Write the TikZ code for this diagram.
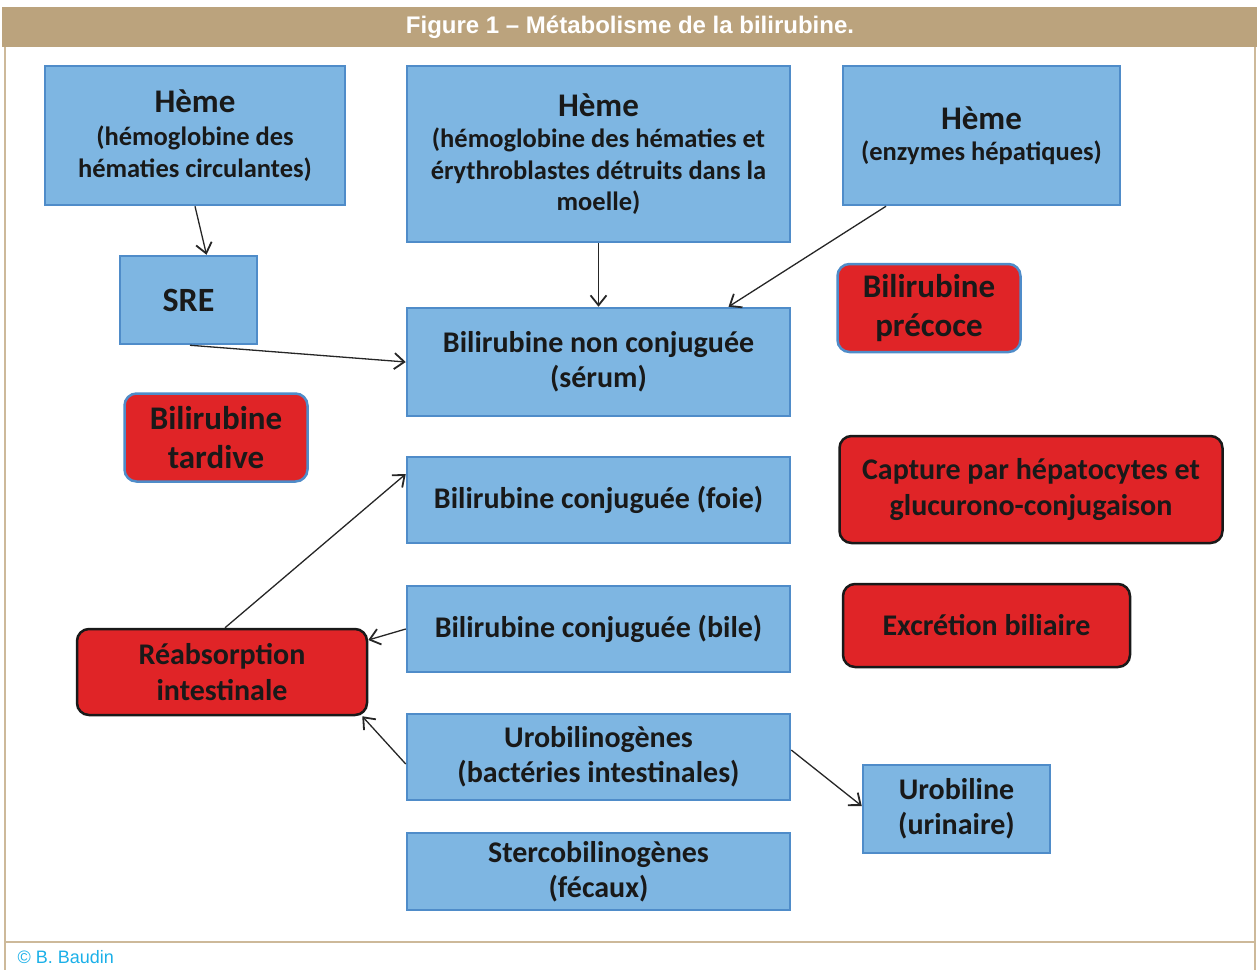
\documentclass[tikz,border=0pt]{standalone}
\usepackage{fontspec}
\setmainfont{Carlito}
\newfontfamily\headfont{Liberation Sans}
\usetikzlibrary{arrows.meta,calc}
\definecolor{tan}{HTML}{BBA37D}
\definecolor{tanline}{HTML}{CDB99A}
\definecolor{bluefill}{HTML}{7EB6E2}
\definecolor{bluedraw}{HTML}{4F8CC9}
\definecolor{redfill}{HTML}{E02427}
\definecolor{credit}{HTML}{1BB0E8}
\newcommand{\hemetitle}{{\fontsize{33}{36}\selectfont Hème}}
\begin{document}
\begin{tikzpicture}[x=1pt,y=-1pt,
  bluebox/.style={draw=bluedraw, line width=2.5pt, fill=bluefill, align=center, inner sep=0pt, text=black!90,
    font=\bfseries\fontsize{30}{35}\selectfont},
  hemebox/.style={bluebox, font=\bfseries\fontsize{26.5}{31.5}\selectfont},
  redbox/.style={draw=black!90, line width=2.5pt, fill=redfill, rounded corners=12pt, align=center, inner sep=0pt, text=black!90,
    font=\bfseries\fontsize{30}{35.5}\selectfont},
  redblue/.style={redbox, draw=bluedraw, font=\bfseries\fontsize{33}{38.5}\selectfont},
  arr/.style={-{Straight Barb[length=10pt,width=16pt,line width=1.8pt]}, line width=1.3pt, black!85}
]
\useasboundingbox (0,0) rectangle (1259,970);
% frame
\fill[tan] (2,7) rectangle (1257,47);
\draw[tanline, line width=2pt] (5,47) -- (5,970);
\draw[tanline, line width=2pt] (1255,47) -- (1255,970);
\draw[tanline, line width=2pt] (5,942) -- (1255,942);
\node[text=white, font=\headfont\bfseries\fontsize{24}{26}\selectfont] (title) at (630,27.5) {Figure 1 – Métabolisme de la bilirubine.};
\node[anchor=west, text=credit, font=\headfont\fontsize{18}{20}\selectfont] (credit) at (14,957) {© B. Baudin};

% blue boxes
\node[hemebox, minimum width=300pt, minimum height=139pt] (h1) at (195,135.5)
  {\hemetitle\\[2pt] (hémoglobine des\\ hématies circulantes)};
\node[bluebox, minimum width=137pt, minimum height=88pt] (sre) at (188.5,300) {{\fontsize{34}{36}\selectfont SRE}};
\node[hemebox, minimum width=383pt, minimum height=176pt] (h2) at (598.5,154)
  {\hemetitle\\ (hémoglobine des hématies et\\ érythroblastes détruits dans la\\ moelle)};
\node[hemebox, minimum width=277pt, minimum height=139pt] (h3) at (981.5,135.5)
  {\hemetitle\\ (enzymes hépatiques)};
\node[bluebox, minimum width=383pt, minimum height=108pt] (bnc) at (598.5,362)
  {Bilirubine non conjuguée\\ (sérum)};
\node[bluebox, minimum width=383pt, minimum height=86pt] (foie) at (598.5,500)
  {Bilirubine conjuguée (foie)};
\node[bluebox, minimum width=383pt, minimum height=86pt] (bile) at (598.5,629)
  {Bilirubine conjuguée (bile)};
\node[bluebox, minimum width=383pt, minimum height=86pt] (uro) at (598.5,757)
  {Urobilinogènes\\ (bactéries intestinales)};
\node[bluebox, minimum width=187pt, minimum height=88pt] (urine) at (956.5,809)
  {Urobiline\\ (urinaire)};
\node[bluebox, minimum width=383pt, minimum height=77pt] (sterco) at (598.5,871.5)
  {Stercobilinogènes\\ (fécaux)};

% red boxes
\node[redblue, minimum width=183pt, minimum height=88pt] (precoce) at (929,308) {Bilirubine\\ précoce};
\node[redblue, minimum width=183pt, minimum height=88pt] (tardive) at (216,437.5) {Bilirubine\\ tardive};
\node[redbox, minimum width=383pt, minimum height=107pt] (capture) at (1031,489.5)
  {Capture par hépatocytes et\\ glucurono-conjugaison};
\node[redbox, minimum width=287pt, minimum height=83pt] (excr) at (986.5,625.5) {Excrétion biliaire};
\node[redbox, minimum width=290pt, minimum height=86pt] (reab) at (222,672)
  {Réabsorption\\ intestinale};

% connectors
\draw[arr] (h1.south) -- ([xshift=18pt]sre.north);
\draw[arr] ([xshift=1.5pt]sre.south) -- (bnc.west);
\draw[arr] (h2.south) -- (bnc.north);
\draw[arr] ([xshift=-95.5pt]h3.south) -- ([xshift=130pt]bnc.north);
\draw[arr] ([xshift=3pt]reab.north) -- ([yshift=26pt]foie.west);
\draw[arr] (bile.west) -- ([yshift=32pt]reab.east);
\draw[arr] ([yshift=-7pt]uro.west) -- ([xshift=-6pt]reab.south east);
\draw[arr] ([yshift=7pt]uro.east) -- ([yshift=3pt]urine.west);
\end{tikzpicture}
\end{document}
